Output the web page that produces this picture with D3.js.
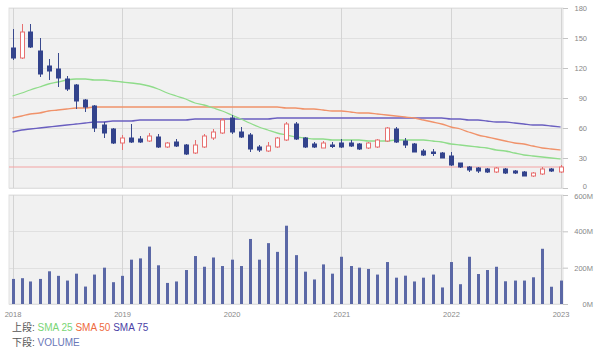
<!DOCTYPE html>
<html>
<head>
<meta charset="utf-8">
<script src="https://cdn.jsdelivr.net/npm/d3@7"></script>
<style>
  body { margin: 0; background: #fff; }
  svg { display: block; font-family: "DejaVu Sans", sans-serif; }
</style>
</head>
<body>
<div class="box"></div>
<script>
// données mensuelles (jan 2018 -> jan 2023)
const months = d3.timeMonth.range(new Date(2018, 0, 1), new Date(2023, 1, 1));

const open  = [140,130,156,137,122,119,109,103,88,82,63,59,
               45,50,49,47,51,41,46,43,35,41,50,55,
               70,56,53,41,37,41,48,64,50,44,40,43,
               45,45,44,40,41,47,59,47,44,37,36,35,
               32,25,21,20,19,16,19,17,16,12,14,19,
               16];
const high  = [159,164,164,150,129,135,112,104,89,83,66,60,
               53,64,52,55,54,46,49,44,48,54,59,70,
               73,61,55,43,46,51,66,66,51,46,47,46,
               49,48,45,46,49,61,61,50,45,39,39,36,
               36,25,22,21,20,21,20,18,17,16,21,20,
               23];
const low   = [128,129,140,111,108,101,97,79,76,56,50,44,
               38,45,45,46,40,40,41,33,34,40,48,54,
               54,50,36,36,36,40,47,48,40,40,40,40,
               40,41,38,39,40,46,45,40,36,32,32,30,
               22,20,16,15,15,15,14,14,12,11,13,16,
               15];
const close = [130,156,141,114,117,110,99,87,81,60,55,45,
               50,46,46,52,41,45,42,34,43,52,56,68,
               56,51,39,38,42,50,64,49,41,41,45,42,
               41,42,39,45,48,60,46,43,36,33,35,30,
               23,21,18,17,16,20,15,15,12,15,19,17,
               21];

// volume en millions
const volume = [138,142,124,138,180,155,129,167,96,162,200,120,
                155,244,251,316,213,116,124,187,264,205,256,209,
                244,209,358,244,335,287,431,269,178,135,218,167,
                260,209,200,193,162,231,145,156,124,145,162,91,
                231,109,260,165,187,205,125,129,129,147,304,95,
                129];

// moyennes mobiles
const sma25 = [92,95,98,101,104,106,108,109,109,108,108,107,
               106,105,104,102,99,95,92,89,85,83,80,77,
               73,69,65,61,58,55,53,51,50,49,49,48,
               48,48,48,47,47,47,48,48,48,48,47,46,
               44,43,42,41,40,38,37,35,33,32,31,30,
               29];
const sma50 = [70,72,74,75,77,78,79,80,80,81,81,81,
               81,81,81,81,81,81,81,81,81,81,81,81,
               81,81,81,81,81,81,80,80,79,79,78,77,
               77,76,75,75,74,73,72,71,70,68,66,64,
               61,59,56,53,51,49,47,45,44,42,40,39,
               38];
const sma75 = [56,58,59,60,61,62,63,64,65,66,66,67,
               67,67,68,68,68,68,68,68,69,69,69,69,
               69,69,69,69,69,70,70,70,70,70,70,70,
               70,70,70,70,70,70,70,70,70,70,70,70,
               69,69,68,68,67,66,66,65,64,63,63,62,
               61];

const lastLine = 21; // ligne horizontale rouge

const yearTicks  = ['2018','2019','2020','2021','2022','2023'];
const priceTicks = [0,30,60,90,120,150,180];
const volTicks   = [0,200,400,600];

const dims = {width: 600, height: 351};
const top1 = {y0: 8, y1: 188};
const top2 = {y0: 195, y1: 304};

const svg = d3.select('.box')
              .append('svg')
              .attr('width', dims.width)
              .attr('height', dims.height);

const x = d3.scaleTime()
            .domain([new Date(2018, 0, 1), new Date(2023, 0, 1)])
            .range([12.5, 560.5]);

const yPrix = d3.scaleLinear().domain([0, 180]).range([top1.y1, top1.y0]);
const yVol  = d3.scaleLinear().domain([0, 600]).range([top2.y1, top2.y0]);

// fonds des deux panneaux
[[top1, yPrix, priceTicks], [top2, yVol, volTicks]].forEach(([p, y, ticks]) => {
    svg.append('rect')
       .attr('x', 9).attr('y', p.y0)
       .attr('width', 554).attr('height', p.y1 - p.y0)
       .attr('fill', '#f1f1f1')
       .attr('stroke', '#e2e2e2');

    svg.append('g').selectAll('line')
       .data(ticks)
       .join('line')
       .attr('x1', 9).attr('x2', 563)
       .attr('y1', d => Math.round(y(d)) + 0.5)
       .attr('y2', d => Math.round(y(d)) + 0.5)
       .attr('stroke', '#e0e0e0');

    svg.append('g').selectAll('line')
       .data(yearTicks)
       .join('line')
       .attr('x1', d => Math.round(x(new Date(+d, 0, 1))) + 0.5)
       .attr('x2', d => Math.round(x(new Date(+d, 0, 1))) + 0.5)
       .attr('y1', p.y0).attr('y2', p.y1)
       .attr('stroke', '#d4d4d4');
});

// axes de droite
const axePrix = d3.axisRight(yPrix).tickValues(priceTicks).tickSize(5);
const axeVol  = d3.axisRight(yVol).tickValues(volTicks).tickSize(5)
                  .tickFormat(d => d + 'M');

[[axePrix, 24, 0], [axeVol, 30, 1]].forEach(([axe, tx, decal]) => {
    const g = svg.append('g')
                 .attr('transform', 'translate(563,0)')
                 .call(axe);
    g.select('.domain').remove();
    g.selectAll('line').attr('stroke', '#c4c4c4');
    g.selectAll('text')
     .attr('x', tx)
     .attr('text-anchor', 'end')
     .attr('fill', '#888')
     .attr('font-size', 7.5);
    // "0" du haut et "600M" se touchent : petit décalage
    g.selectAll('.tick')
     .filter(d => (decal === 0 && d === 0) || (decal === 1 && d === 600))
     .select('text')
     .attr('dy', decal === 0 ? '0.05em' : '0.5em');
});

// axe du bas
const axeX = d3.axisBottom(x)
               .tickValues(yearTicks.map(d => new Date(+d, 0, 1)))
               .tickFormat(d3.timeFormat('%Y'))
               .tickSize(0).tickPadding(8);

const gx = svg.append('g')
              .attr('transform', `translate(0, ${top2.y1})`)
              .call(axeX);
gx.select('.domain').remove();
gx.selectAll('text').attr('fill', '#888').attr('font-size', 7.5);

// ligne horizontale rouge
svg.append('line')
   .attr('x1', 9).attr('x2', 563)
   .attr('y1', yPrix(lastLine)).attr('y2', yPrix(lastLine))
   .attr('stroke', '#f3a3a3')
   .attr('stroke-width', 1);

// moyennes mobiles
const ligne = (serie) => d3.line()
                           .x((d, i) => x(months[i]))
                           .y(d => yPrix(d))
                           .curve(d3.curveMonotoneX)(serie);

[[sma75, '#6a5fc0'], [sma50, '#f0926a'], [sma25, '#8fdc8a']].forEach(([s, c]) => {
    svg.append('path')
       .attr('d', ligne(s))
       .attr('fill', 'none')
       .attr('stroke', c)
       .attr('stroke-width', 1.3);
});

// chandeliers
const candles = months.map((m, i) => ({date: m, o: open[i], h: high[i], l: low[i], c: close[i]}));
const bw = 4;

const gc = svg.append('g');

gc.selectAll('line.wick')
  .data(candles)
  .join('line')
  .attr('class', 'wick')
  .attr('x1', d => Math.round(x(d.date)) + 0.5)
  .attr('x2', d => Math.round(x(d.date)) + 0.5)
  .attr('y1', d => yPrix(d.h))
  .attr('y2', d => yPrix(d.l))
  .attr('stroke', d => d.c >= d.o ? '#e77070' : '#3a4a8e');

gc.selectAll('rect')
  .data(candles)
  .join('rect')
  .attr('x', d => Math.round(x(d.date)) - bw / 2 + 0.5)
  .attr('y', d => yPrix(Math.max(d.o, d.c)))
  .attr('width', bw)
  .attr('height', d => Math.max(1.5, Math.abs(yPrix(d.o) - yPrix(d.c))))
  .attr('fill', d => d.c >= d.o ? '#fff' : '#33438c')
  .attr('stroke', d => d.c >= d.o ? '#e77070' : '#33438c')
  .attr('stroke-width', 1);

// volume
svg.append('g').selectAll('rect')
   .data(volume)
   .join('rect')
   .attr('x', (d, i) => Math.round(x(months[i])) - 1)
   .attr('y', d => yVol(d))
   .attr('width', 3)
   .attr('height', d => yVol(0) - yVol(d))
   .attr('fill', '#5b68a6');

// légende
const leg = svg.append('g')
               .attr('font-size', 10)
               .attr('font-family', '"Liberation Sans", "Noto Sans CJK JP", sans-serif');

const t1 = leg.append('text').attr('x', 12).attr('y', 331);
t1.append('tspan').attr('fill', '#555').text('上段: ');
t1.append('tspan').attr('fill', '#7ad676').text('SMA 25 ');
t1.append('tspan').attr('fill', '#ee6a3e').text('SMA 50 ');
t1.append('tspan').attr('fill', '#4b3fa6').text('SMA 75');

const t2 = leg.append('text').attr('x', 12).attr('y', 346);
t2.append('tspan').attr('fill', '#555').text('下段: ');
t2.append('tspan').attr('fill', '#6a77b8').text('VOLUME');
</script>
</body>
</html>
